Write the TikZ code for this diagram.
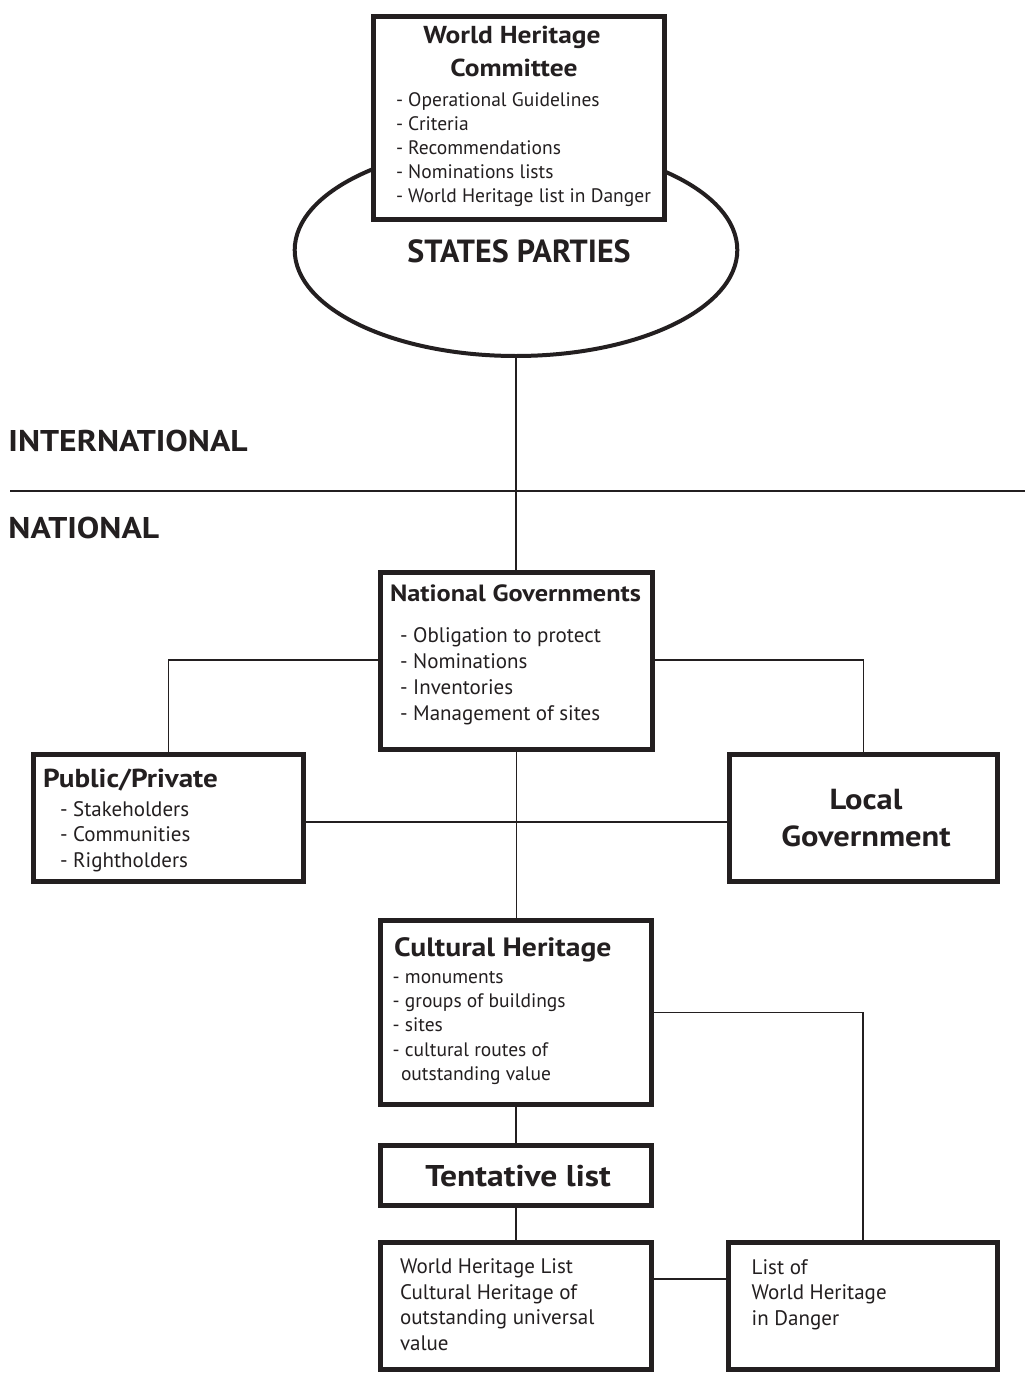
\documentclass[tikz,border=0pt]{standalone}
\usepackage{fontspec}
\setmainfont{PT Sans}
\newfontfamily\widebf{PT Sans}[FakeStretch=1.12]
\usetikzlibrary{shapes.geometric}
\definecolor{ink}{RGB}{35,31,32}
\newcommand\fs[1]{\fontsize{#1}{#1}\selectfont}
\newcommand\linesat[6]{% style, prefix, x, first baseline, step, list
  \foreach \tx [count=\k from 0] in {#6}{%
    \node[txt,#1,anchor=base west] (#2\k) at (#3,{#4+\k*#5}) {\tx};}}
\begin{document}
\begin{tikzpicture}[x=1pt,y=-1pt,
  txt/.style={inner sep=0pt, outer sep=0pt, text=ink},
  boxed/.style={draw=ink, line width=5pt, fill=white, inner sep=0pt},
  conn/.style={draw=ink, line width=1.6pt},
  item/.style={font=\fs{19.5}},
  body/.style={font=\fs{21}},
  head/.style={font=\widebf\bfseries\fs{#1}}]
\useasboundingbox (0,0) rectangle (1025,1381);
\fill[white] (0,0) rectangle (1025,1381);

% separator
\draw[draw=ink, line width=1.8pt] (10,491) -- (1025,491);
\node[txt, anchor=base west, head=30] (intl) at (8.5,451.7) {INTERNATIONAL};
\node[txt, anchor=base west, head=30] (natl) at (8.5,538.3) {NATIONAL};

% States parties ellipse and committee box
\node[ellipse, draw=ink, line width=4pt, inner sep=0pt, minimum width=442.6, minimum height=212] (sp) at (516,250) {};
\node[txt, anchor=base, font=\bfseries\fs{32}] (spt) at (519,262) {STATES PARTIES};
\node[boxed, minimum width=291, minimum height=203] (whc) at (519,118) {};
\node[txt, anchor=base, head=24.5] (whct1) at (512,44) {World Heritage};
\node[txt, anchor=base, head=24.5] (whct2) at (514,77) {Committee};
\linesat{item}{whci}{396}{106}{24}{- Operational Guidelines,- Criteria,- Recommendations,- Nominations lists,- World Heritage list in Danger}

% National governments
\node[boxed, minimum width=272, minimum height=177] (ng) at (516.5,661) {};
\node[txt, anchor=base, head=23.5] (ngt) at (515.5,601) {National Governments};
\linesat{body}{ngi}{400}{642}{26.3}{- Obligation to protect,- Nominations,- Inventories,- Management of sites}

% Public/Private
\node[boxed, minimum width=270, minimum height=127] (pp) at (168.5,818) {};
\node[txt, anchor=base west, head=26] (ppt) at (43,787.3) {Public/Private};
\linesat{body}{ppi}{60}{816}{25.9}{- Stakeholders,- Communities,- Rightholders}

% Local Government
\node[boxed, minimum width=268, minimum height=127] (lg) at (863.5,818) {};
\node[txt, anchor=base, head=29] (lgt1) at (866,809) {Local};
\node[txt, anchor=base, head=29] (lgt2) at (866,846.7) {Government};

% Cultural heritage
\node[boxed, minimum width=271, minimum height=184] (ch) at (516,1012.5) {};
\node[txt, anchor=base west, head=26.5] (cht) at (394,956) {Cultural Heritage};
\linesat{item}{chi}{392.7}{983.7}{24.1}{- monuments,- groups of buildings,- sites,- cultural routes of}
\node[txt, item, anchor=base west] (chi4) at (401,1080) {outstanding value};

% Tentative list
\node[boxed, minimum width=271, minimum height=60] (tl) at (516,1175.5) {};
\node[txt, anchor=base, head=30] (tlt) at (518,1186) {Tentative list};

% World Heritage List
\node[boxed, minimum width=271, minimum height=127] (whl) at (516,1306) {};
\linesat{body}{whli}{400}{1273.3}{25.8}{World Heritage List,Cultural Heritage of,outstanding universal,value}

% List of World Heritage in Danger
\node[boxed, minimum width=269, minimum height=127] (ld) at (863,1306) {};
\linesat{body}{ldi}{751.7}{1274}{25.8}{List of,World Heritage,in Danger}

% connectors
\draw[conn] (sp.south) -- (sp.south |- ng.north);
\draw[conn] ([yshift=1pt]ng.west) -| (pp.north);
\draw[conn] ([yshift=1pt]ng.east) -| (lg.north);
\draw[conn] ([yshift=-4pt]pp.east) -- ([yshift=-4pt]pp.east -| lg.west);
\draw[conn] (ng.south) -- (ng.south |- ch.north);
\draw[conn] (ch.east) -| (ld.north);
\draw[conn] (ch.south) -- (tl.north);
\draw[conn] (tl.south) -- (whl.north);
\draw[conn] ([yshift=27pt]whl.east) -- ([yshift=27pt]whl.east -| ld.west);
\end{tikzpicture}
\end{document}
